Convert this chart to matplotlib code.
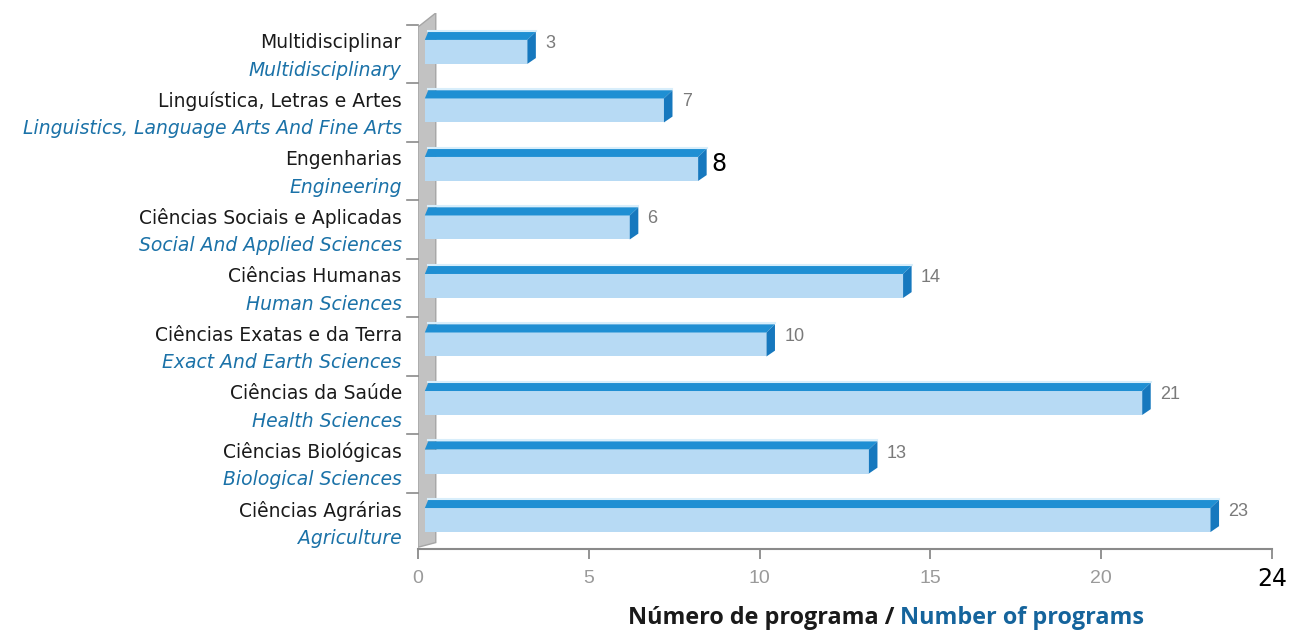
import matplotlib
matplotlib.use("Agg")
import matplotlib.pyplot as plt
from matplotlib.patches import Polygon
import matplotlib.transforms as mtransforms

# data, bottom to top
labels_pt = ["Ciências Agrárias", "Ciências Biológicas", "Ciências da Saúde",
             "Ciências Exatas e da Terra", "Ciências Humanas",
             "Ciências Sociais e Aplicadas", "Engenharias",
             "Linguística, Letras e Artes", "Multidisciplinar"]
labels_en = ["Agriculture", "Biological Sciences", "Health Sciences",
             "Exact And Earth Sciences", "Human Sciences",
             "Social And Applied Sciences", "Engineering",
             "Linguistics, Language Arts And Fine Arts", "Multidisciplinary"]
values = [23, 13, 21, 10, 14, 6, 8, 7, 3]
xticks = [0, 5, 10, 15, 20]
xtick_labels = ["0", "5", "10", "15", "20"]

face_col = "#b7daf4"
top_col = "#1f8fd3"
cap_col = "#1678be"
hl_col = "#d8eefb"
blue_txt = "#1b72a8"
gray_txt = "#7a7a7a"

fig = plt.figure(figsize=(13, 6.35), dpi=100)
ax = fig.add_axes([418/1300, (635-549)/635, 854/1300, (549-13)/635])
ax.set_xlim(0, 25)
ax.set_ylim(-0.58, 8.58)

dx = 0.2     # depth offset in x
dd = 0.25    # extra depth of top/cap
for i, v in enumerate(values):
    fb, ft = i - 0.29, i + 0.12       # face bottom/top
    st = i + 0.26                     # strip top
    # light front face
    ax.barh(i - 0.085, v, left=dx, height=ft - fb, color=face_col, zorder=3)
    # top face
    ax.add_patch(Polygon([(dx, ft), (v + dx, ft), (v + dx + dd, st), (dx + 0.1, st)],
                         closed=True, color=top_col, lw=0, zorder=4))
    ax.plot([dx + 0.1, v + dx + dd], [st + 0.02, st + 0.02], color=hl_col, lw=1.5, zorder=4)
    # right cap
    ax.add_patch(Polygon([(v + dx, fb), (v + dx, ft), (v + dx + dd, st), (v + dx + dd, fb + 0.1)],
                         closed=True, color=cap_col, lw=0, zorder=5))
    # value label
    if v == 8:
        ax.text(v + 0.6, i + 0.0, str(v), fontsize=17, color="black",
                va="center", ha="left", family="DejaVu Sans", zorder=6)
    else:
        ax.text(v + 0.72, i + 0.06, str(v), fontsize=13, color=gray_txt,
                va="center", ha="left", family="Liberation Sans", zorder=6)

# grey left wall
ax.add_patch(Polygon([(0, -0.55), (0, 8.34), (0.52, 8.58), (0.52, -0.47)],
                     closed=True, facecolor="#c2c2c2", edgecolor="#a5a5a5", lw=1, zorder=2))
# small ticks on the wall
for i in range(len(values)):
    ax.plot([-0.32, 0], [i + 0.38, i + 0.38], color="#8a8a8a", lw=1.2,
            clip_on=False, zorder=2)

# category labels
trans = mtransforms.blended_transform_factory(ax.transAxes, ax.transData)
for i in range(len(values)):
    ax.text(-0.019, i + 0.07, labels_pt[i], transform=trans, ha="right", va="center",
            fontsize=13.5, color="#1a1a1a", family="DejaVu Sans")
    ax.text(-0.019, i - 0.40, labels_en[i], transform=trans, ha="right", va="center",
            fontsize=13.5, color=blue_txt, family="DejaVu Sans", style="italic")

# axes styling
for s in ["top", "right", "left"]:
    ax.spines[s].set_visible(False)
ax.spines["bottom"].set_color("#8a8a8a")
ax.spines["bottom"].set_linewidth(1.5)
ax.set_yticks([])
ax.set_xticks(xticks + [25])
ax.set_xticklabels(xtick_labels + [""])
ax.tick_params(axis="x", colors="#8a8a8a", length=7, width=1.3, labelsize=14,
               labelcolor="#9a9a9a", pad=8)
for lbl in ax.get_xticklabels():
    lbl.set_family("Liberation Sans")
ax.text(25, -0.58 - 0.52, "24", ha="center", va="center", fontsize=17,
        color="black", family="DejaVu Sans", clip_on=False)

# x label in two colours
t1 = fig.text(628/1300, 1 - 618/635, "Número de programa / ", fontsize=16.8,
              fontweight="bold", color="#1a1a1a", family="Open Sans", va="center", ha="left")
fig.canvas.draw()
bb = t1.get_window_extent()
fig.text(bb.x1 / fig.bbox.width, 1 - 618/635, "Number of programs", fontsize=16.8,
         fontweight="bold", color="#15649c", family="Open Sans", va="center", ha="left")

fig.savefig("out.png", dpi=100)
